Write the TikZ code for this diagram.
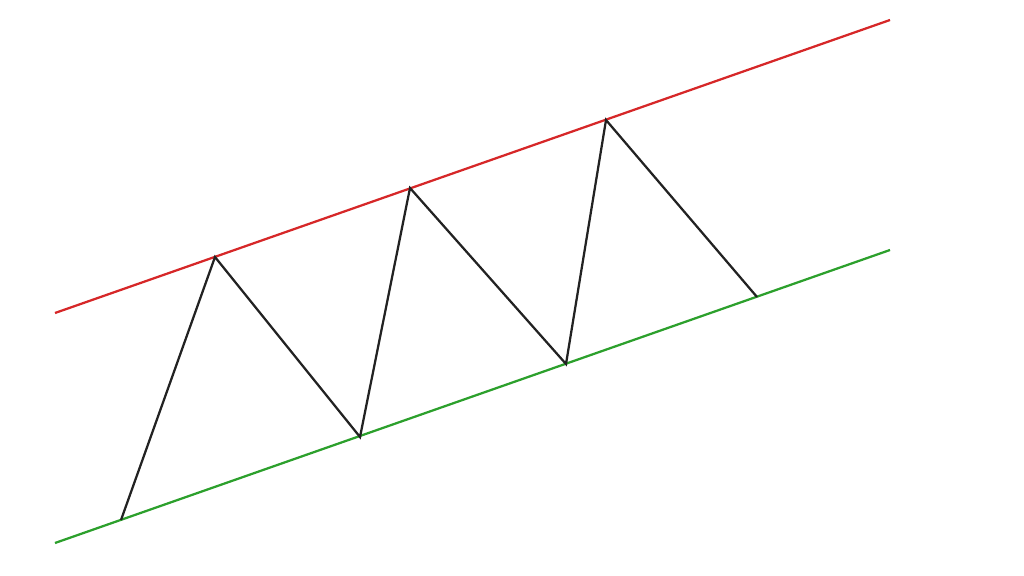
\documentclass[tikz,border=0pt]{standalone}
\usepackage{tikz}
\definecolor{upred}{HTML}{D62728}
\definecolor{lowgreen}{HTML}{2CA02C}
\definecolor{zigblack}{HTML}{222222}
\begin{document}
\begin{tikzpicture}[x=0.025cm,y=-0.025cm,line width=1.6pt,
    upper/.style={draw=upred},
    lower/.style={draw=lowgreen},
    zig/.style={draw=zigblack,line join=miter}]
        \useasboundingbox (0,0) rectangle (1024,576);
        \coordinate (u1) at (55,313);
        \coordinate (u2) at (890,20);
        \coordinate (l1) at (55,543);
        \coordinate (l2) at (890,250);
        \coordinate (1) at (121,520);
        \coordinate (2) at (215,257);
        \coordinate (3) at (360,437);
        \coordinate (4) at (410,188);
        \coordinate (5) at (566,364);
        \coordinate (6) at (606,120);
        \coordinate (7) at (757,297);
        \draw[upper] (u1) -- (u2);
        \draw[lower] (l1) -- (l2);
        \draw[zig] (1) -- (2) -- (3) -- (4) -- (5) -- (6) -- (7);
      \end{tikzpicture}
\end{document}
